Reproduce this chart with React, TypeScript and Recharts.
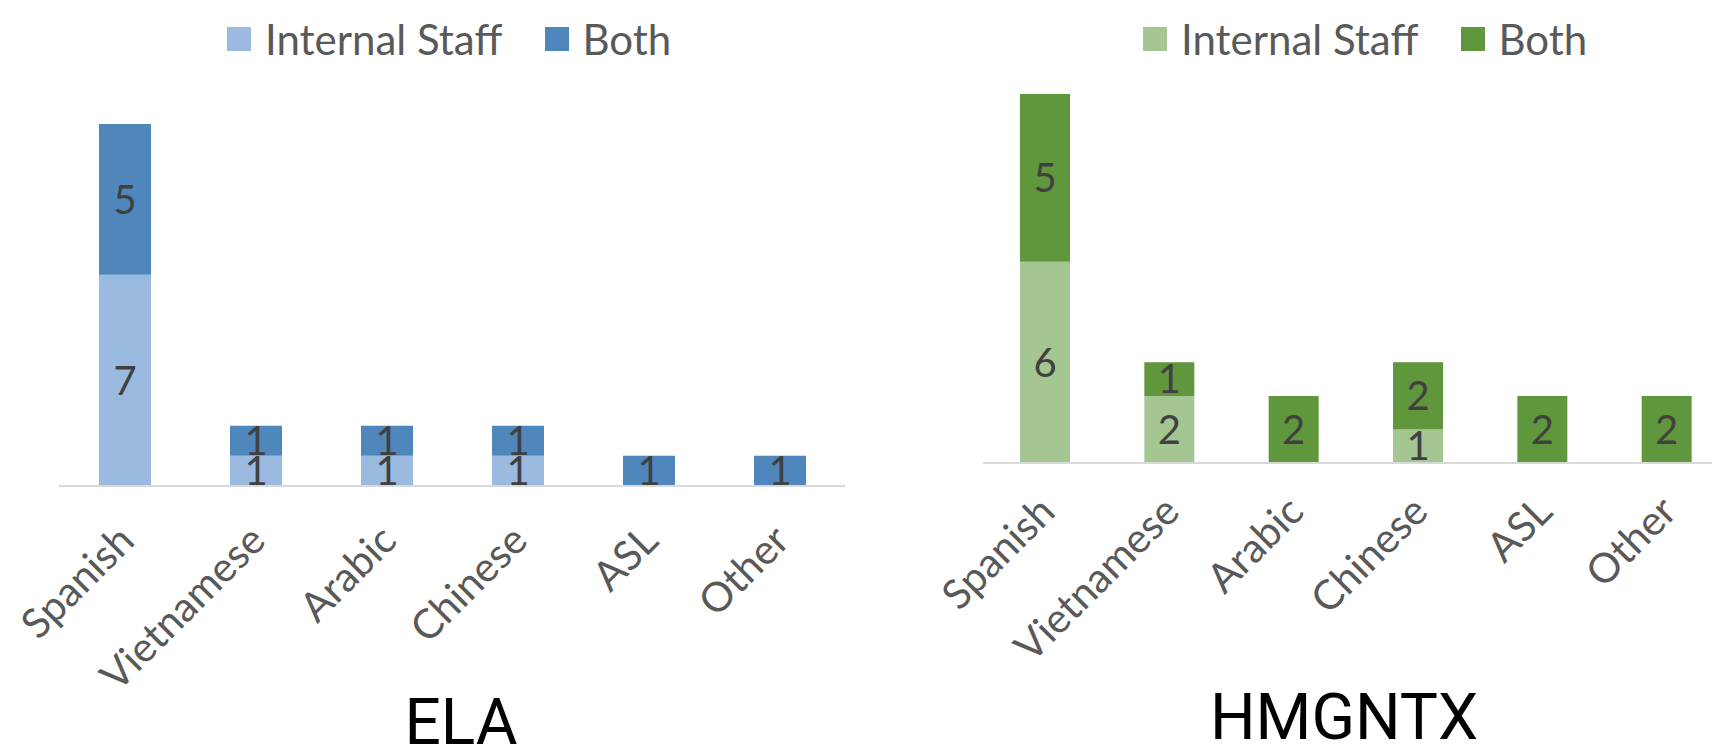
import { BarChart, Bar, XAxis, YAxis, Legend, LabelList } from 'recharts'

const categories = ['Spanish', 'Vietnamese', 'Arabic', 'Chinese', 'ASL', 'Other']

const elaInternal = [7, 1, 1, 1, 0, 0]
const elaBoth = [5, 1, 1, 1, 1, 1]

const hmgInternal = [6, 2, 0, 1, 0, 0]
const hmgBoth = [5, 1, 2, 2, 2, 2]

const FONT = "Lato, 'Open Sans', sans-serif"

const buildRows = (internal: number[], both: number[]) =>
  categories.map((name, i) => ({ name, internal: internal[i], both: both[i] }))

const elaData = buildRows(elaInternal, elaBoth)
const hmgData = buildRows(hmgInternal, hmgBoth)

const LegendBox = ({ light, dark }: { light: string, dark: string }) => (
  <div style={{ display: 'flex', alignItems: 'center', fontSize: 42, lineHeight: '48px', color: '#595959', whiteSpace: 'nowrap', fontFamily: FONT }}>
    <span style={{ width: 24, height: 24, background: light, marginRight: 14 }} />
    <span>Internal Staff</span>
    <span style={{ width: 24, height: 24, background: dark, marginLeft: 43, marginRight: 13 }} />
    <span>Both</span>
  </div>
)

const makeTick = (dy: number) => (props: any) => {
  const { x, y, payload } = props
  return (
    <text
      transform={`translate(${x + 12},${y + dy}) rotate(-45)`}
      textAnchor="end"
      fill="#595959"
      fontSize={41}
      fontFamily={FONT}
    >
      {payload.value}
    </text>
  )
}

const hideZero = (v: any) => (v ? v : '')

type PanelProps = {
  data: { name: string, internal: number, both: number }[]
  light: string
  dark: string
  left: number
  width: number
  margin: { top: number, left: number, right: number, bottom: number }
  max: number
  barSize: number
  tickDy: number
  legendLeft: number
}

const Panel = ({ data, light, dark, left, width, margin, max, barSize, tickDy, legendLeft }: PanelProps) => (
  <div style={{ position: 'absolute', left, top: 0, fontFamily: FONT }}>
    <BarChart width={width} height={747} data={data} margin={margin}>
      <XAxis
        dataKey="name"
        interval={0}
        tickLine={false}
        tickSize={0}
        tickMargin={0}
        height={200}
        axisLine={{ stroke: '#d9d9d9', strokeWidth: 2 }}
        tick={makeTick(tickDy)}
      />
      <YAxis hide domain={[0, max]} />
      <Legend
        verticalAlign="middle"
        align="center"
        content={() => <LegendBox light={light} dark={dark} />}
        wrapperStyle={{ top: 15, left: legendLeft, width: 'auto' }}
      />
      <Bar dataKey="internal" stackId="a" fill={light} barSize={barSize} isAnimationActive={false}>
        <LabelList dataKey="internal" position="center" fill="#404040" fontSize={40} formatter={hideZero} />
      </Bar>
      <Bar dataKey="both" stackId="a" fill={dark} barSize={barSize} isAnimationActive={false}>
        <LabelList dataKey="both" position="center" fill="#404040" fontSize={40} formatter={hideZero} />
      </Bar>
    </BarChart>
  </div>
)

const App = () => {
  return (
    <div style={{ position: 'fixed', left: 0, top: 0, width: 1712, height: 747, overflow: 'hidden', background: '#fff' }}>
      <Panel
        data={elaData}
        light="#9bbae0"
        dark="#4f87bd"
        left={0}
        width={860}
        margin={{ top: 124, left: 59, right: 15, bottom: 61 }}
        max={12}
        barSize={52}
        tickDy={57}
        legendLeft={227}
      />
      <Panel
        data={hmgData}
        light="#a3c692"
        dark="#61973c"
        left={860}
        width={880}
        margin={{ top: 94, left: 123, right: 11, bottom: 84 }}
        max={11}
        barSize={50}
        tickDy={51}
        legendLeft={1143 - 860}
      />
      <svg width={1712} height={747} style={{ position: 'absolute', left: 0, top: 0, pointerEvents: 'none' }}>
        <text x={461} y={744} textAnchor="middle" fontFamily="Roboto" fontSize={64} fill="#000">ELA</text>
        <text x={1344} y={739} textAnchor="middle" fontFamily="Roboto" fontSize={64} fill="#000">HMGNTX</text>
      </svg>
    </div>
  )
}

export default App
